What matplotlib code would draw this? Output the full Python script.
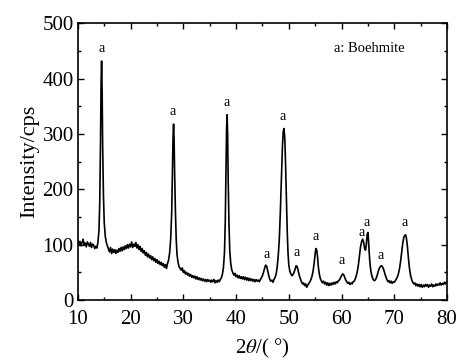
import matplotlib
matplotlib.use('Agg')
import matplotlib.pyplot as plt
from matplotlib.ticker import MultipleLocator

plt.rcParams['font.family'] = ['Liberation Serif', 'DejaVu Serif']
plt.rcParams['mathtext.fontset'] = 'stix'

# patron XRD (2theta, cps)
two_theta = [
    10.0, 10.2, 10.4, 10.6, 10.8, 11.0, 11.2, 11.4, 11.6, 11.8, 12.0, 12.2, 12.4, 12.6, 12.8, 13.0, 13.2, 13.4, 13.6, 13.8,
    14.0, 14.15, 14.3, 14.4, 14.5, 14.6, 14.7, 14.85, 15.0, 15.2, 15.4, 15.6, 15.8,
    16.0, 16.2, 16.4, 16.6, 16.8, 17.0, 17.2, 17.4, 17.6, 17.8, 18.0, 18.2, 18.4, 18.6, 18.8, 19.0, 19.2, 19.4, 19.6, 19.8,
    20.0, 20.2, 20.4, 20.6, 20.8, 21.0, 21.2, 21.4, 21.6, 21.8, 22.0, 22.2, 22.4, 22.6, 22.8, 23.0, 23.2, 23.4, 23.6, 23.8,
    24.0, 24.2, 24.4, 24.6, 24.8, 25.0, 25.2, 25.4, 25.6, 25.8, 26.0, 26.2, 26.4, 26.6, 26.8, 27.0,
    27.2, 27.4, 27.6, 27.8, 27.95, 28.05, 28.15, 28.25, 28.35, 28.5, 28.65, 28.8, 29.0, 29.2, 29.4,
    29.6, 29.8, 30.0, 30.2, 30.4, 30.6, 30.8, 31.0, 31.2, 31.4, 31.6, 31.8, 32.0, 32.2, 32.4, 32.6, 32.8, 33.0, 33.2, 33.4,
    33.6, 33.8, 34.0, 34.2, 34.4, 34.6, 34.8, 35.0, 35.2, 35.4, 35.6, 35.8, 36.0, 36.2, 36.4, 36.6, 36.8, 37.0, 37.2,
    37.4, 37.6, 37.8, 37.95, 38.1, 38.2, 38.3, 38.4, 38.5, 38.65, 38.8, 39.0, 39.2, 39.4,
    39.6, 39.8, 40.0, 40.2, 40.4, 40.6, 40.8, 41.0, 41.2, 41.4, 41.6, 41.8, 42.0, 42.2, 42.4, 42.6, 42.8, 43.0, 43.2, 43.4,
    43.6, 43.8, 44.0, 44.2, 44.4, 44.6, 44.8,
    45.0, 45.2, 45.4, 45.6, 45.8, 46.0, 46.2, 46.4, 46.6, 46.8, 47.0, 47.2, 47.4, 47.6,
    47.8, 48.0, 48.2, 48.4, 48.6, 48.8, 48.95, 49.1, 49.25, 49.4, 49.55, 49.7, 49.85, 50.0, 50.2, 50.4, 50.6, 50.8,
    51.0, 51.2, 51.4, 51.6, 51.8, 52.0, 52.2, 52.4, 52.6, 52.8, 53.0, 53.2, 53.4, 53.6, 53.8, 54.0, 54.2, 54.4, 54.6,
    54.8, 55.0, 55.15, 55.3, 55.45, 55.6, 55.8, 56.0, 56.2,
    56.4, 56.6, 56.8, 57.0, 57.2, 57.4, 57.6, 57.8, 58.0, 58.2, 58.4, 58.6, 58.8, 59.0, 59.2, 59.4,
    59.6, 59.8, 60.0, 60.2, 60.4, 60.6, 60.8, 61.0, 61.2,
    61.4, 61.6, 61.8, 62.0, 62.2, 62.4, 62.6, 62.8,
    63.0, 63.2, 63.4, 63.6, 63.8, 64.0, 64.2, 64.4, 64.55, 64.7, 64.85, 65.0, 65.1, 65.25, 65.4, 65.6, 65.8, 66.0, 66.2, 66.4,
    66.6, 66.8, 67.0, 67.2, 67.4, 67.6, 67.8, 68.0, 68.2, 68.4, 68.6, 68.8,
    69.0, 69.2, 69.4, 69.6, 69.8, 70.0, 70.2, 70.4,
    70.6, 70.8, 71.0, 71.2, 71.4, 71.6, 71.8, 72.0, 72.15, 72.3, 72.5, 72.7, 72.9, 73.1, 73.3, 73.5,
    73.7, 73.9, 74.1, 74.3, 74.5, 74.7, 74.9, 75.1, 75.3, 75.5, 75.7, 75.9, 76.1, 76.3, 76.5, 76.7, 76.9, 77.1, 77.3, 77.5,
    77.7, 77.9, 78.1, 78.3, 78.5, 78.7, 78.9, 79.1, 79.3, 79.5, 79.7, 79.9, 80.0,
]
counts = [
    108, 100, 106, 98, 104, 110, 99, 103, 96, 105, 101, 97, 104, 95, 101, 99, 93, 97, 94, 104,
    125, 175, 290, 390, 432, 380, 280, 190, 140, 115, 104, 98, 92,
    87, 95, 84, 92, 86, 91, 84, 90, 86, 93, 88, 95, 89, 96, 91, 98, 93, 100, 94, 101,
    96, 105, 95, 101, 97, 104, 94, 100, 91, 97, 88, 93, 85, 89, 81, 86, 78, 83, 76, 80,
    73, 78, 71, 75, 68, 73, 66, 70, 64, 68, 62, 66, 59, 64, 57, 66,
    72, 85, 110, 160, 240, 295, 318, 290, 230, 160, 110, 82, 68, 60, 57,
    54, 58, 50, 53, 47, 50, 45, 48, 43, 46, 41, 44, 40, 43, 38, 42, 37, 40, 36, 39,
    35, 38, 34, 37, 33, 37, 34, 36, 32, 36, 33, 37, 31, 35, 32, 36, 33, 37, 40,
    46, 58, 85, 140, 240, 310, 335, 300, 220, 140, 90, 65, 54, 49,
    45, 48, 42, 45, 40, 44, 39, 42, 38, 42, 37, 41, 36, 40, 35, 39, 35, 38, 34, 37,
    33, 37, 34, 36, 33, 37, 40,
    44, 50, 57, 63, 61, 53, 44, 37, 34, 36, 32, 37, 41, 47,
    60, 80, 110, 160, 220, 280, 305, 310, 290, 240, 180, 125, 85, 63, 52, 47, 44, 46,
    50, 56, 62, 60, 52, 44, 38, 33, 29, 31, 26, 29, 23, 27, 30, 33, 37, 43, 52,
    66, 84, 93, 90, 78, 60, 46, 38, 34,
    31, 34, 29, 32, 27, 31, 26, 30, 27, 31, 28, 32, 29, 33, 31, 35,
    36, 40, 44, 47, 46, 41, 36, 33, 30,
    32, 28, 31, 29, 33, 34, 38, 44,
    52, 64, 80, 96, 105, 110, 104, 92, 90, 100, 118, 122, 110, 85, 65, 50, 42, 37, 35, 36,
    40, 46, 53, 58, 61, 62, 59, 55, 48, 42, 37, 33,
    35, 31, 34, 30, 33, 32, 35, 38,
    42, 48, 57, 70, 86, 102, 113, 117, 118, 112, 96, 74, 56, 44, 37, 32,
    29, 31, 26, 29, 25, 28, 24, 28, 23, 27, 24, 28, 25, 28, 23, 27, 25, 29, 24, 27,
    25, 29, 26, 29, 27, 31, 27, 30, 28, 32, 29, 33, 31,
]

# posiciones de las etiquetas "a"
label_x = [14.5, 28.0, 38.2, 48.8, 45.7, 51.4, 55.1, 60.1, 63.8, 64.8, 67.4, 71.9]
label_y = [455, 340, 357, 331, 83, 85, 114, 72, 122, 140, 81, 140]

fig = plt.figure(figsize=(4.58, 3.61), dpi=100)
ax = fig.add_axes([0.170, 0.169, 0.806, 0.766])

ax.plot(two_theta, counts, color='black', linewidth=1.2)

for lx, ly in zip(label_x, label_y):
    ax.text(lx, ly, 'a', ha='center', va='center', fontsize=10)

ax.text(0.79, 0.91, 'a: Boehmite', transform=ax.transAxes, ha='center', va='center', fontsize=10.5)

ax.set_xlim(10, 80)
ax.set_ylim(0, 500)
ax.xaxis.set_major_locator(MultipleLocator(10))
ax.xaxis.set_minor_locator(MultipleLocator(5))
ax.yaxis.set_major_locator(MultipleLocator(100))
ax.yaxis.set_minor_locator(MultipleLocator(50))
ax.tick_params(which='both', direction='in', top=True, right=True, labelsize=15, width=1.0)
ax.tick_params(which='major', length=4)
ax.tick_params(which='minor', length=2.5)
ax.tick_params(axis='x', pad=7)
ax.tick_params(axis='y', pad=3)
for s in ax.spines.values():
    s.set_linewidth(1.2)

ax.set_xlabel('2$\\theta$/( °)', fontsize=15, labelpad=6)
ax.set_ylabel('Intensity/cps', fontsize=16, labelpad=2)

fig.savefig('out.png', dpi=100)
